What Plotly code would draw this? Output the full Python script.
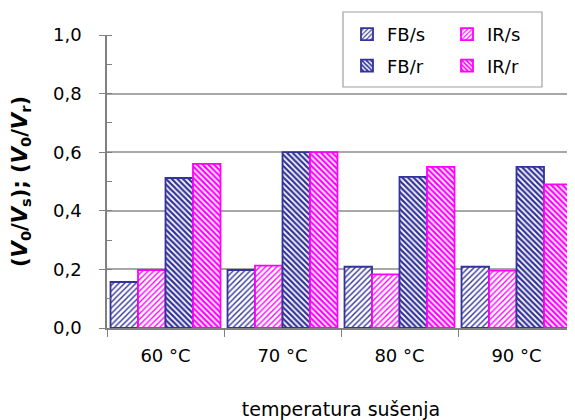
import plotly.graph_objects as go

categories = ["60 °C", "70 °C", "80 °C", "90 °C"]
fb_s = [0.157, 0.198, 0.209, 0.209]
ir_s = [0.198, 0.213, 0.183, 0.196]
fb_r = [0.512, 0.600, 0.516, 0.550]
ir_r = [0.560, 0.600, 0.550, 0.490]

NAVY = "#333399"
MAG = "#FF00FF"

FONT = "DejaVu Sans, Liberation Sans, Arial, sans-serif"

def bar(name, y, color, shape, solidity, size, legend):
    return go.Bar(
        name=name, x=categories, y=y, legend=legend, legendgroup=name,
        marker=dict(
            color="white",
            line=dict(color=color, width=1.8),
            pattern=dict(shape=shape, fgcolor=color, bgcolor="white",
                         size=size, solidity=solidity, fillmode="replace"),
        ),
    )

fig = go.Figure()
fig.add_trace(bar("FB/s", fb_s, NAVY, "/", 0.35, 4, "legend"))
fig.add_trace(bar("IR/s", ir_s, MAG, "/", 0.35, 4, "legend2"))
fig.add_trace(bar("FB/r", fb_r, NAVY, "\\", 0.55, 4, "legend"))
fig.add_trace(bar("IR/r", ir_r, MAG, "\\", 0.55, 4, "legend2"))

W, H = 567, 412
L, T, B = 99, 27, 92
PW, PH = W - L, H - T - B

fig.update_layout(
    width=W, height=H,
    margin=dict(l=L, r=0, t=T, b=B),
    paper_bgcolor="white", plot_bgcolor="white",
    separators=", ",
    font=dict(family=FONT, size=18, color="black"),
    barmode="group", bargap=0.06, bargroupgap=0,
    showlegend=True,
    legend=dict(x=(339 - L) / PW, y=(T + PH - 8) / PH, xanchor="left", yanchor="top",
                bgcolor="rgba(0,0,0,0)", font=dict(size=18, family=FONT),
                tracegroupgap=5, itemwidth=30),
    legend2=dict(x=(439 - L) / PW, y=(T + PH - 8) / PH, xanchor="left", yanchor="top",
                 bgcolor="rgba(0,0,0,0)", font=dict(size=18, family=FONT),
                 tracegroupgap=5, itemwidth=30),
    shapes=[dict(type="rect", xref="paper", yref="paper",
                 x0=(335 - L) / PW, x1=(534 - L) / PW,
                 y0=(T + PH - 79) / PH, y1=(T + PH - 4) / PH,
                 line=dict(color="#A0A0A0", width=1.2), fillcolor="white",
                 layer="above")],
    xaxis=dict(
        automargin=False,
        showline=True, linecolor="#808080", linewidth=1.5,
        ticks="outside", tickson="boundaries", ticklen=7, tickcolor="#808080",
        tickfont=dict(size=18), showgrid=False, ticklabelstandoff=11,
        title=dict(text="temperatura sušenja", font=dict(size=19), standoff=38),
    ),
    yaxis=dict(
        automargin=False,
        range=[0, 1.0], dtick=0.2, tickformat=".1f",
        showline=True, linecolor="#808080", linewidth=1.5,
        ticks="outside", ticklen=6, tickcolor="#808080",
        showgrid=True, gridcolor="#A8A8A8", gridwidth=1.5,
        minor=dict(dtick=0.1, ticks="inside", ticklen=5, tickcolor="#808080", showgrid=False),
        tickfont=dict(size=18), zeroline=False, ticklabelstandoff=14,
        title=dict(text="<b>(<i>V</i><sub>0</sub>/<i>V</i><sub>s</sub>); (<i>V</i><sub>0</sub>/<i>V</i><sub>r</sub>)</b>",
                   font=dict(size=21), standoff=23),
    ),
)

fig.write_html("out.html")
